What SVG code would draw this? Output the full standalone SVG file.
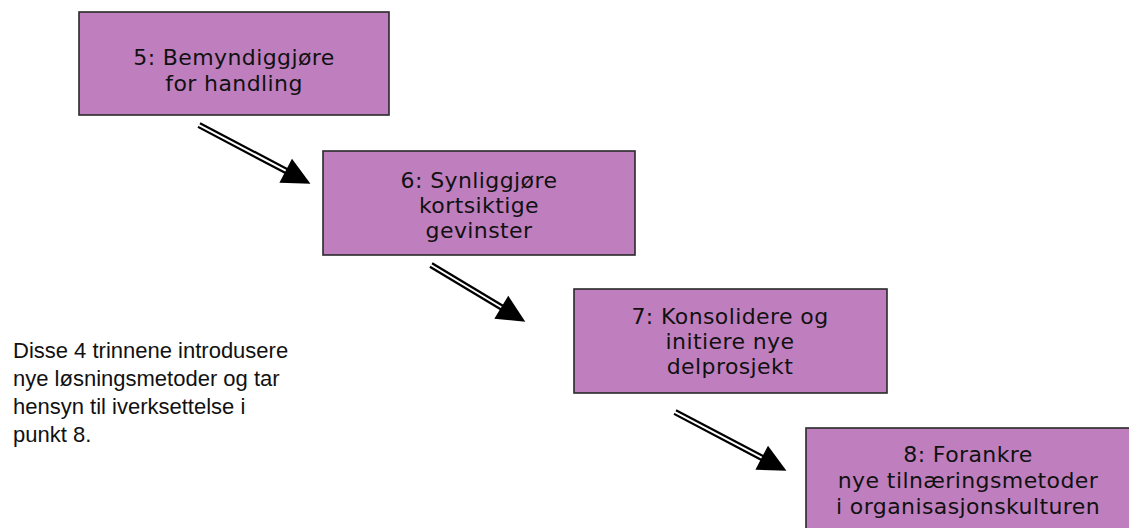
<svg xmlns="http://www.w3.org/2000/svg" width="1129" height="528" viewBox="0 0 1129 528">
<style>
.box{fill:#BF7FBF;stroke:#2a2a2a;stroke-width:1.6}
.lbl{font-family:"DejaVu Sans",Verdana,sans-serif;font-size:22px;letter-spacing:0.4px;fill:#111;text-anchor:middle}
.note{font-family:"Liberation Sans",Arial,sans-serif;font-size:22px;fill:#111}
.sh{stroke:#000;stroke-width:6.5}
.sw{stroke:#fff;stroke-width:2}
.hd{fill:#000}
</style>
<defs>
<g id="arr">
<line class="sh" x1="0" y1="0" x2="100" y2="0"/>
<line class="sw" x1="-1" y1="0" x2="99" y2="0"/>
<polygon class="hd" points="98,-13.5 126,0 98,13.5"/>
</g>
<g id="arrS">
<line class="sh" x1="0" y1="0" x2="84" y2="0"/>
<line class="sw" x1="-1" y1="0" x2="83" y2="0"/>
<polygon class="hd" points="82,-13.5 110,0 82,13.5"/>
</g>
</defs>
<rect width="1129" height="528" fill="#fff"/>
<g id="connectors">
<use href="#arr" transform="translate(199,125) rotate(27.8)"/>
<use href="#arrS" transform="translate(431,265) rotate(31)"/>
<use href="#arr" transform="translate(675,412) rotate(27.8)"/>
</g>
<g id="n5">
<rect class="box" x="79" y="12" width="310" height="103"/>
<text class="lbl" x="234" y="65">5: Bemyndiggjøre</text>
<text class="lbl" x="234" y="91">for handling</text>
</g>
<g id="n6">
<rect class="box" x="323" y="151" width="312" height="104"/>
<text class="lbl" x="479" y="188">6: Synliggjøre</text>
<text class="lbl" x="479" y="213">kortsiktige</text>
<text class="lbl" x="479" y="238">gevinster</text>
</g>
<g id="n7">
<rect class="box" x="574" y="289" width="313" height="104"/>
<text class="lbl" x="730" y="324">7: Konsolidere og</text>
<text class="lbl" x="730" y="349">initiere nye</text>
<text class="lbl" x="730" y="374">delprosjekt</text>
</g>
<g id="n8">
<rect class="box" x="806" y="428" width="340" height="110"/>
<text class="lbl" x="968" y="462">8: Forankre</text>
<text class="lbl" x="968" y="488">nye tilnæringsmetoder</text>
<text class="lbl" x="968" y="514">i organisasjonskulturen</text>
</g>
<g id="note">
<text class="note" x="13" y="358">Disse 4 trinnene introdusere</text>
<text class="note" x="13" y="386">nye løsningsmetoder og tar</text>
<text class="note" x="13" y="414">hensyn til iverksettelse i</text>
<text class="note" x="13" y="442">punkt 8.</text>
</g>
</svg>
